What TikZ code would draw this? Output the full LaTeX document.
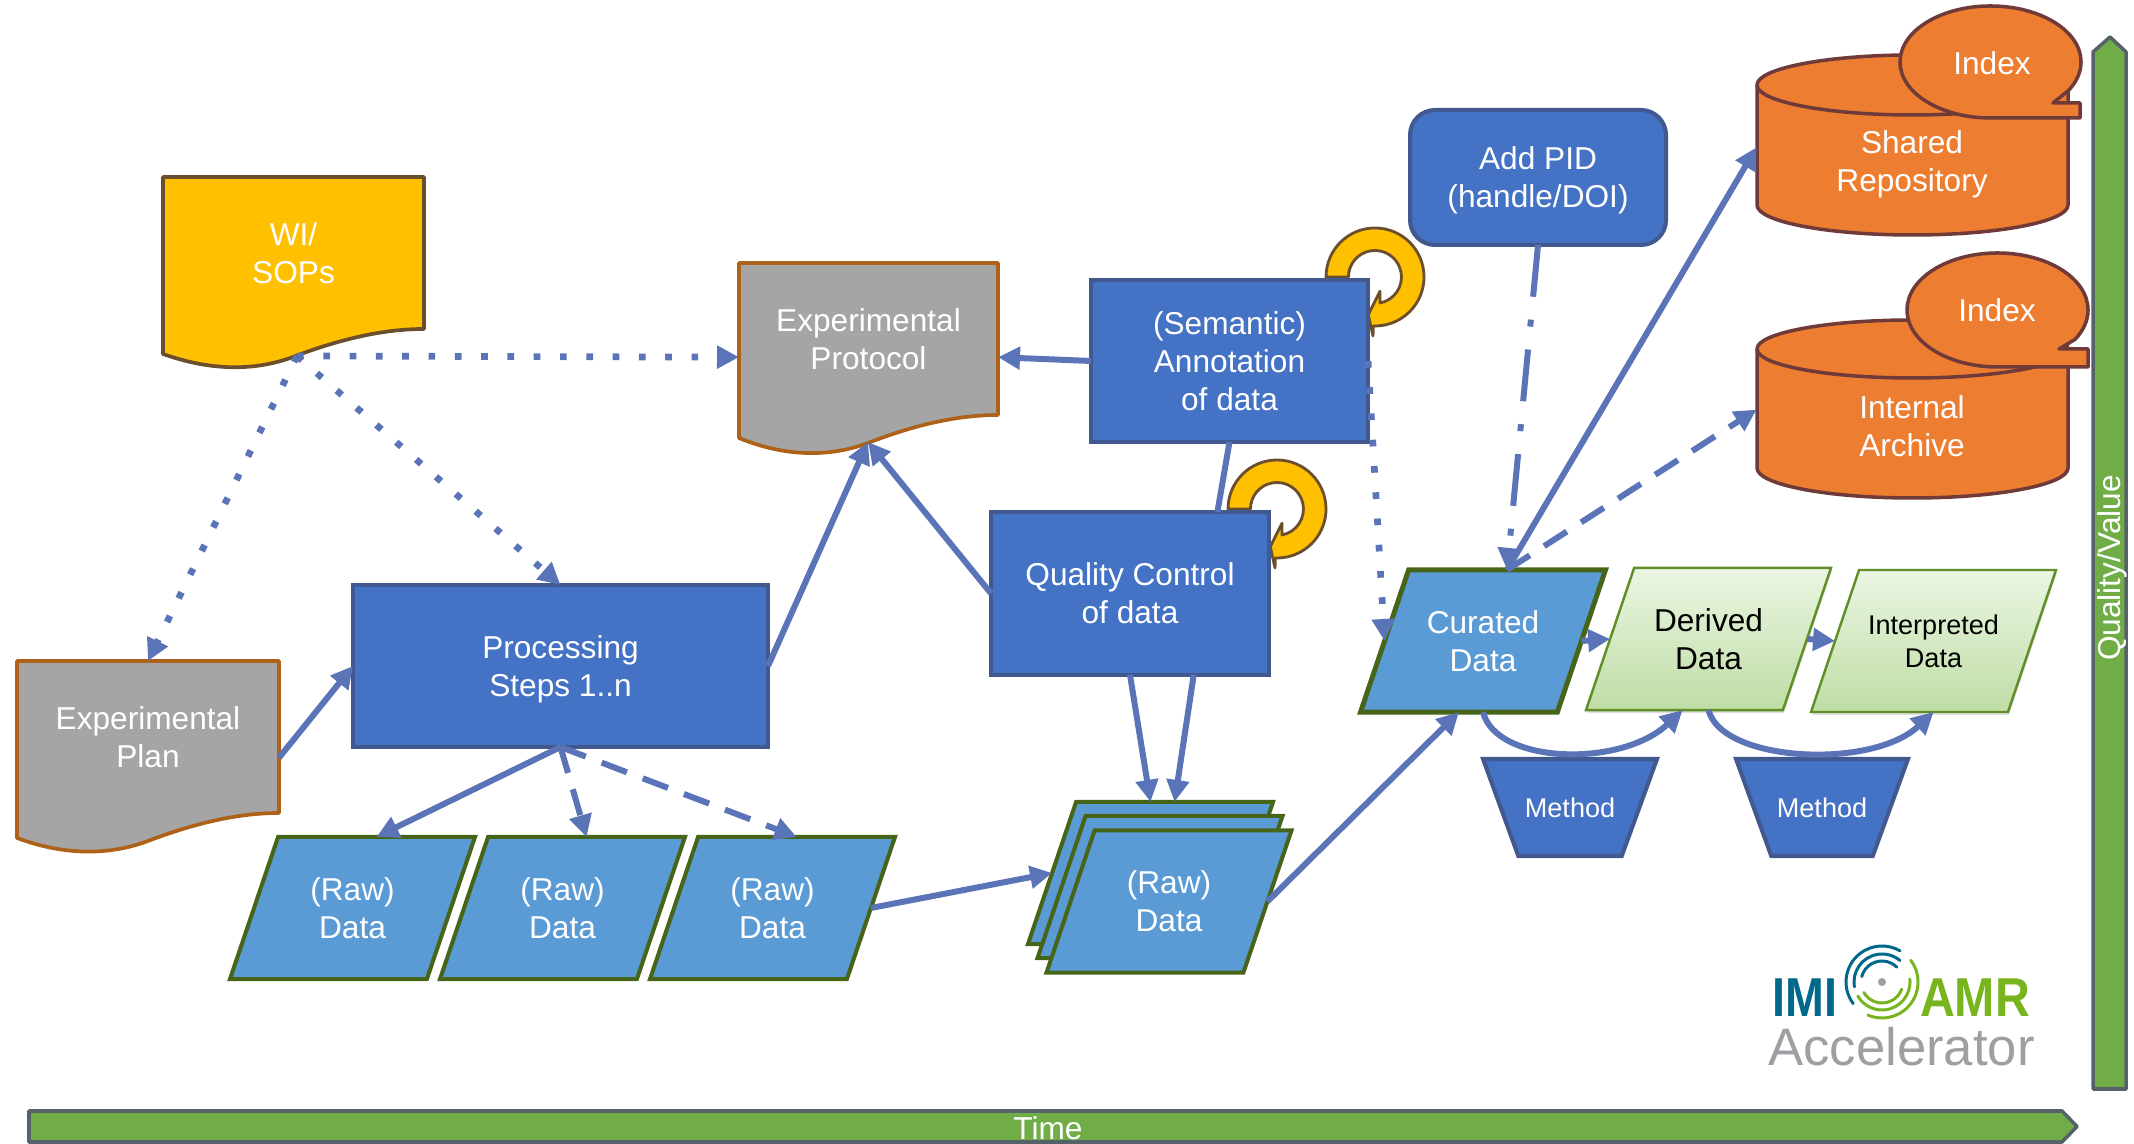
\documentclass[tikz,border=0pt]{standalone}
\usepackage{fontspec}
\setmainfont{Liberation Sans}
\usetikzlibrary{shapes.geometric,arrows.meta,shadows}
\definecolor{bluefill}{HTML}{4472C4}
\definecolor{blueline}{HTML}{42598F}
\definecolor{datafill}{HTML}{5B9BD5}
\definecolor{dataline}{HTML}{466518}
\definecolor{greenline}{HTML}{5F8F26}
\definecolor{greentop}{HTML}{EBF6E3}
\definecolor{greenbot}{HTML}{BFDDA5}
\definecolor{docgrey}{HTML}{A5A5A5}
\definecolor{docline}{HTML}{AE6119}
\definecolor{wifill}{HTML}{FFC000}
\definecolor{wiline}{HTML}{6B4E2E}
\definecolor{orangefill}{HTML}{ED7D31}
\definecolor{orangeline}{HTML}{703A38}
\definecolor{barfill}{HTML}{70AD47}
\definecolor{barline}{HTML}{56626A}
\definecolor{flowcol}{HTML}{5B74B8}
\definecolor{logoteal}{HTML}{00688B}
\definecolor{logogreen}{HTML}{78B41E}
\definecolor{logogrey}{HTML}{9D9FA2}
\tikzset{
  every node/.style={inner sep=0pt,outer sep=0pt,align=center,text=white,font=\fontsize{9}{10.8}\selectfont},
  smallfont/.style={font=\fontsize{7.7}{9.4}\selectfont},
  blockbox/.style={rectangle,draw=blueline,fill=bluefill,line width=1.15pt},
  databox/.style={trapezium,trapezium left angle=71.3,trapezium right angle=108.7,trapezium stretches body=true,
    inner ysep=0.405cm,minimum width=2.45cm,minimum height=1.42cm,draw=dataline,fill=datafill,line width=1.15pt},
  greenbox/.style={databox,draw=greenline,top color=greentop,bottom color=greenbot,
    line width=0.7pt,text=black,drop shadow={shadow xshift=0.01cm,shadow yshift=-0.03cm,opacity=0.25}},
  methodbox/.style={trapezium,shape border rotate=180,trapezium left angle=70,trapezium right angle=70,
    trapezium stretches body=true,inner ysep=0.385cm,minimum height=0.97cm,draw=blueline,fill=bluefill,line width=1.15pt,smallfont},
  docshape/.style={line width=1.05pt,line join=round},
  ringshape/.style={draw=wiline,fill=wifill,line width=0.8pt,line join=round},
  cylshape/.style={draw=orangeline,fill=orangefill,line width=1pt,line join=round},
  barshape/.style={draw=barline,fill=barfill,line width=1pt,line join=round},
  flowarrow/.style={draw=flowcol,line width=0.06cm,-{Triangle[length=0.22cm,width=0.22cm]}},
  dashedflow/.style={flowarrow,dash pattern=on 0.27cm off 0.17cm},
  dottedflow/.style={flowarrow,line width=0.067cm,dash pattern=on 0.067cm off 0.196cm},
  dashdotflow/.style={flowarrow,dash pattern=on 0.52cm off 0.23cm on 0.07cm off 0.23cm},
  swirlteal/.style={draw=logoteal,line width=0.85pt,line cap=round},
  swirlgreen/.style={draw=logogreen,line width=0.85pt,line cap=round}
}
\begin{document}
\begin{tikzpicture}
        \useasboundingbox (0,0) rectangle (21.34,11.44);

        \draw[barshape] (0.29,0.33) -- (20.62,0.33) -- (20.77,0.175) -- (20.62,0.02) -- (0.29,0.02) -- cycle;
        \node at (10.48,0.16) (time) {Time};
        \draw[barshape] (20.93,0.55) -- (20.93,10.92) -- (21.10,11.07) -- (21.26,10.92) -- (21.26,0.55) -- cycle;
        \node at (21.12,5.76) [rotate=90] (quality) {Quality/Value};

        \draw[docshape,draw=wiline,fill=wifill] (1.63,9.67) -- (4.24,9.67) -- (4.24,8.15) .. controls (3.80,8.15) and (3.35,8.03) .. (2.93,7.87) .. controls (2.50,7.71) and (2.05,7.75) .. (1.63,7.90) -- cycle;
        \node at (2.935,8.91) [rectangle,minimum width=2.61cm,minimum height=1.52cm] (wi) {WI/\\SOPs};
        \coordinate (wibase) at (2.97,7.88);

        \draw[docshape,draw=docline,fill=docgrey] (7.39,8.81) -- (9.98,8.81) -- (9.98,7.29) .. controls (9.54,7.29) and (9.09,7.17) .. (8.68,7.01) .. controls (8.25,6.85) and (7.80,6.89) .. (7.39,7.06) -- cycle;
        \node at (8.685,8.05) [rectangle,minimum width=2.59cm,minimum height=1.52cm] (protocol) {Experimental\\Protocol};
        \coordinate (protbase) at (8.68,7.02);

        \draw[docshape,draw=docline,fill=docgrey] (0.17,4.83) -- (2.79,4.83) -- (2.79,3.31) .. controls (2.35,3.31) and (1.90,3.19) .. (1.48,3.03) .. controls (1.05,2.87) and (0.60,2.90) .. (0.17,3.06) -- cycle;
        \node at (1.48,4.07) [rectangle,minimum width=2.62cm,minimum height=1.52cm] (plan) {Experimental\\Plan};

        \draw[ringshape,shift={(13.75,8.67)}] (-0.49,0) arc[start angle=180,end angle=-92,radius=0.49] -- (-0.02,-0.59) -- (-0.067,-0.377) -- (0.05,-0.143) -- (0.05,-0.26) arc[start angle=-79,end angle=180,radius=0.265] -- cycle;
        \draw[ringshape,shift={(12.77,6.35)}] (-0.49,0) arc[start angle=180,end angle=-92,radius=0.49] -- (-0.02,-0.59) -- (-0.067,-0.377) -- (0.05,-0.143) -- (0.05,-0.26) arc[start angle=-79,end angle=180,radius=0.265] -- cycle;

        \node at (5.605,4.78) [blockbox,text depth=0pt,minimum width=4.15cm,minimum height=1.62cm] (proc) {Processing\\Steps 1..n};
        \node at (12.295,7.83) [blockbox,minimum width=2.77cm,minimum height=1.62cm] (semantic) {(Semantic)\\Annotation\\of data};
        \node at (11.30,5.505) [blockbox,minimum width=2.78cm,minimum height=1.63cm] (qc) {Quality Control\\of data};
        \node at (15.38,9.665) [blockbox,text depth=0pt,rounded corners=0.25cm,minimum width=2.56cm,minimum height=1.35cm] (pid) {Add PID\\(handle/DOI)};

        \node at (3.525,2.36) [databox] (raw1) {(Raw)\\Data};
        \node at (5.625,2.36) [databox] (raw2) {(Raw)\\Data};
        \node at (7.725,2.36) [databox] (raw3) {(Raw)\\Data};
        \node at (11.505,2.71) [databox] (stack3) {\phantom{(Raw)}\\\phantom{Data}};
        \node at (11.60,2.57) [databox] (stack2) {\phantom{(Raw)}\\\phantom{Data}};
        \node at (11.69,2.425) [databox] (stack1) {(Raw)\\Data};

        \node at (14.83,5.03) [databox,line width=1.4pt] (curated) {Curated\\Data};
        \node at (17.085,5.05) [greenbox] (derived) {Derived\\Data};
        \node at (19.335,5.03) [greenbox,smallfont,inner ysep=0.445cm] (interpreted) {Interpreted\\Data};
        \node at (15.70,3.365) [methodbox,minimum width=1.74cm] (method1) {Method};
        \node at (18.22,3.365) [methodbox,minimum width=1.72cm] (method2) {Method};

        \draw[cylshape] (17.57,10.59) -- (17.57,9.39) arc[start angle=180,end angle=360,x radius=1.555,y radius=0.3] -- (20.68,10.59) arc[start angle=0,end angle=180,x radius=1.555,y radius=0.3] -- cycle;
        \draw[cylshape] (17.57,10.59) arc[start angle=180,end angle=360,x radius=1.555,y radius=0.3];
        \node at (19.12,9.83) [rectangle,text depth=0pt,minimum width=3.11cm,minimum height=1.2cm] (shared) {Shared\\Repository};
        \draw[cylshape] (17.57,7.95) -- (17.57,6.76) arc[start angle=180,end angle=360,x radius=1.555,y radius=0.3] -- (20.68,7.95) arc[start angle=0,end angle=180,x radius=1.555,y radius=0.29] -- cycle;
        \draw[cylshape] (17.57,7.95) arc[start angle=180,end angle=360,x radius=1.555,y radius=0.29];
        \node at (19.12,7.18) [rectangle,minimum width=3.11cm,minimum height=1.2cm] (internal) {Internal\\Archive};

        \draw[cylshape] (19.905,10.26) arc[start angle=270,end angle=-31,x radius=0.905,y radius=0.56] -- (20.53,10.41) -- (20.80,10.41) -- (20.80,10.26) -- cycle;
        \node at (19.92,10.81) (index1) {Index};
        \draw[cylshape] (19.975,7.77) arc[start angle=270,end angle=-31,x radius=0.905,y radius=0.57] -- (20.59,7.95) -- (20.88,7.95) -- (20.88,7.77) -- cycle;
        \node at (19.97,8.34) (index2) {Index};

        \draw[dottedflow] (wibase) -- (protocol.188);
        \draw[dottedflow] (wibase) -- (plan.north);
        \draw[dottedflow] (wibase) -- (proc.north);
        \draw[flowarrow] (plan.-9) -- (proc.west);
        \draw[flowarrow] (proc.east) -- (protbase);
        \draw[flowarrow] (qc.west) -- (protbase);
        \draw[flowarrow] (semantic.west) -- (protocol.-8);
        \draw[flowarrow,-] (qc.43) -- (semantic.south);
        \draw[dottedflow] (semantic.east) -- (curated.left side);
        \draw[flowarrow] (proc.south) -- (raw1.top side);
        \draw[dashedflow] (proc.south) -- (raw2.top side);
        \draw[dashedflow] (proc.south) -- (raw3.top side);
        \draw[flowarrow] (raw3.right side) -- (stack3.left side);
        \draw[flowarrow] (qc.south) -- (stack3.90);
        \draw[flowarrow] (qc.-52) -- (stack3.top side);
        \draw[flowarrow] (stack1.right side) -- (curated.bottom side);
        \draw[flowarrow] (curated.right side) -- (derived.left side);
        \draw[flowarrow] (derived.right side) -- (interpreted.left side);
        \draw[flowarrow] (curated.south) .. controls +(0.13,-0.52) and +(-0.62,-0.58) .. (derived.250);
        \draw[flowarrow] (derived.south) .. controls +(0.13,-0.52) and +(-0.62,-0.58) .. (interpreted.south);
        \draw[dashdotflow] (pid.south) -- (curated.top side);
        \draw[flowarrow] (curated.top side) -- (shared.175);
        \draw[dashedflow] (curated.top side) -- (internal.174);

        \node at (18.05,1.46) [text=logoteal,xscale=0.85,font=\fontsize{15.6}{18}\selectfont\bfseries] (imi) {IMI};
        \node at (19.75,1.46) [text=logogreen,xscale=0.88,font=\fontsize{15.6}{18}\selectfont\bfseries] (amr) {AMR};
        \node at (19.015,0.97) [text=logogrey,font=\fontsize{15}{18}\selectfont] (accel) {Accelerator};
        \coordinate (swirl) at (18.82,1.62);
        \fill[logogrey] (swirl) circle (0.04);
        \draw[swirlteal] ([shift={(217:0.36)}]swirl) arc[start angle=217,end angle=60,radius=0.36];
        \draw[swirlteal] ([shift={(190:0.28)}]swirl) arc[start angle=190,end angle=50,radius=0.28];
        \draw[swirlteal] ([shift={(165:0.21)}]swirl) arc[start angle=165,end angle=45,radius=0.21];
        \draw[swirlgreen] ([shift={(37:0.36)}]swirl) arc[start angle=37,end angle=-113,radius=0.36];
        \draw[swirlgreen] ([shift={(6:0.28)}]swirl) arc[start angle=6,end angle=-150,radius=0.28];
        \draw[swirlgreen] ([shift={(-20:0.21)}]swirl) arc[start angle=-20,end angle=-150,radius=0.21];
\end{tikzpicture}
\end{document}
